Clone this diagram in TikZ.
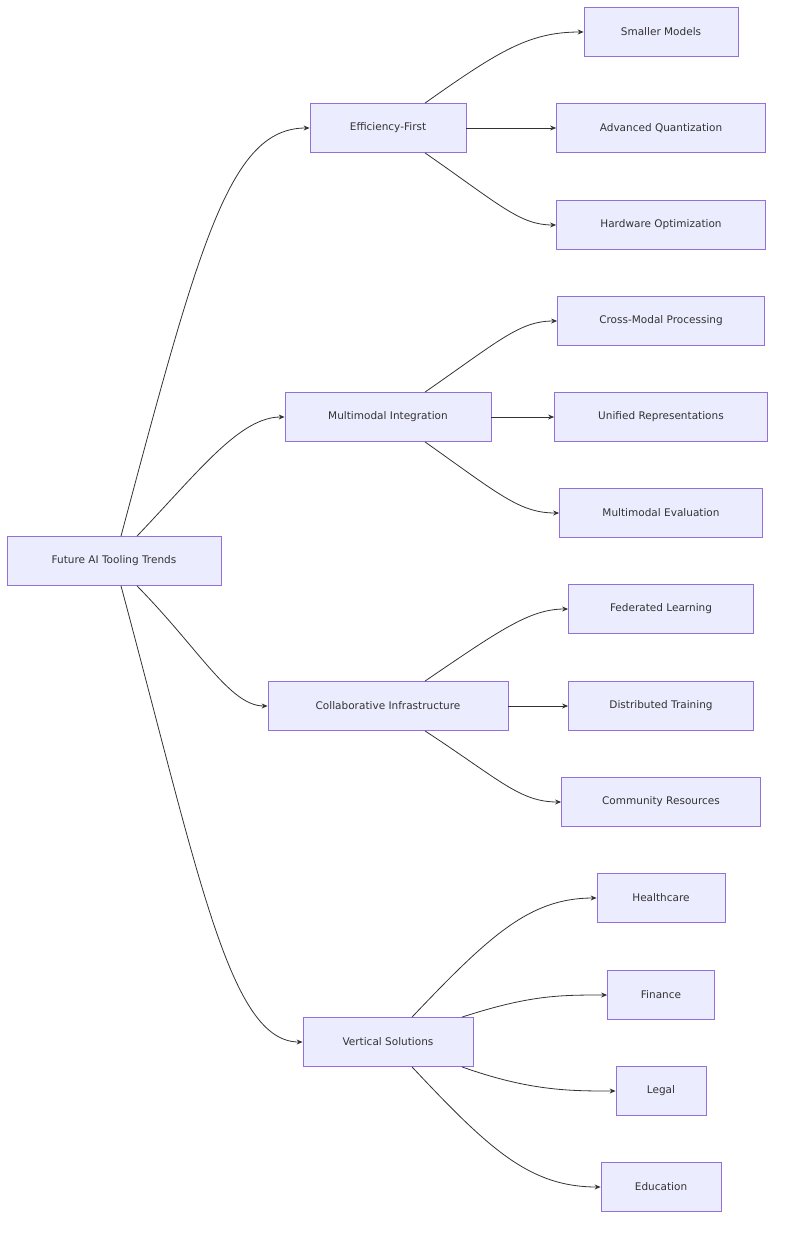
\documentclass[tikz,border=0pt]{standalone}
\usepackage{fontspec}
\setmainfont{DejaVu Sans}
\usetikzlibrary{arrows.meta}
\definecolor{boxfill}{HTML}{ECECFF}
\definecolor{boxline}{HTML}{9370DB}
\definecolor{edge}{HTML}{333333}
\begin{document}
\begin{tikzpicture}[x=1pt,y=-1pt,
  box/.style={draw=boxline,fill=boxfill,line width=0.8pt,minimum height=49pt,inner sep=0pt,font=\fontsize{10.5}{12}\selectfont,text=edge},
  link/.style={draw=edge,line width=0.8pt,-{Stealth[length=6pt,width=5pt]}}]
\useasboundingbox (0,0) rectangle (784,1233);
% root and branches
\node[box,minimum width=214pt] (root) at (114,561) {Future AI Tooling Trends};
\node[box,minimum width=156pt] (eff) at (388,128) {Efficiency-First};
\node[box,minimum width=206pt] (mm) at (388,417) {Multimodal Integration};
\node[box,minimum width=240pt] (col) at (388,706) {Collaborative Infrastructure};
\node[box,minimum width=170pt] (vert) at (388,1042) {Vertical Solutions};
% leaves
\node[box,minimum width=154pt] (small) at (661,32) {Smaller Models};
\node[box,minimum width=209pt] (quant) at (661,128) {Advanced Quantization};
\node[box,minimum width=209pt] (hw) at (661,225) {Hardware Optimization};
\node[box,minimum width=207pt] (cross) at (661,321) {Cross-Modal Processing};
\node[box,minimum width=213pt] (unif) at (661,417) {Unified Representations};
\node[box,minimum width=203pt] (mmeval) at (661,513) {Multimodal Evaluation};
\node[box,minimum width=185pt] (fed) at (661,609) {Federated Learning};
\node[box,minimum width=185pt] (dist) at (661,706) {Distributed Training};
\node[box,minimum width=199pt] (comm) at (661,802) {Community Resources};
\node[box,minimum width=128pt] (health) at (661,898) {Healthcare};
\node[box,minimum width=107pt] (fin) at (661,995) {Finance};
\node[box,minimum width=90pt] (legal) at (661,1091) {Legal};
\node[box,minimum width=120pt] (edu) at (661,1187) {Education};
% root edges
\draw[link] ([xshift=7pt]root.north) .. controls (200,240) and (230,128) .. (eff.west);
\draw[link] ([xshift=23pt]root.north) .. controls (200,470) and (240,417) .. (mm.west);
\draw[link] ([xshift=23pt]root.south) .. controls (200,650) and (230,706) .. (col.west);
\draw[link] ([xshift=7pt]root.south) .. controls (200,880) and (230,1042) .. (vert.west);
% branch edges
\draw[link] ([xshift=37pt]eff.north) .. controls (500,50) and (530,32) .. (small.west);
\draw[link] (eff.east) -- (quant.west);
\draw[link] ([xshift=37pt]eff.south) .. controls (500,205) and (520,225) .. (hw.west);
\draw[link] ([xshift=37pt]mm.north) .. controls (500,340) and (520,321) .. (cross.west);
\draw[link] (mm.east) -- (unif.west);
\draw[link] ([xshift=37pt]mm.south) .. controls (500,495) and (520,513) .. (mmeval.west);
\draw[link] ([xshift=37pt]col.north) .. controls (500,630) and (530,609) .. (fed.west);
\draw[link] (col.east) -- (dist.west);
\draw[link] ([xshift=37pt]col.south) .. controls (500,780) and (520,802) .. (comm.west);
\draw[link] ([xshift=24pt]vert.north) .. controls (490,935) and (530,898) .. (health.west);
\draw[link] ([xshift=74pt]vert.north) .. controls (530,995) and (560,995) .. (fin.west);
\draw[link] ([xshift=74pt]vert.south) .. controls (530,1091) and (570,1091) .. (legal.west);
\draw[link] ([xshift=24pt]vert.south) .. controls (490,1150) and (530,1187) .. (edu.west);
\end{tikzpicture}
\end{document}
